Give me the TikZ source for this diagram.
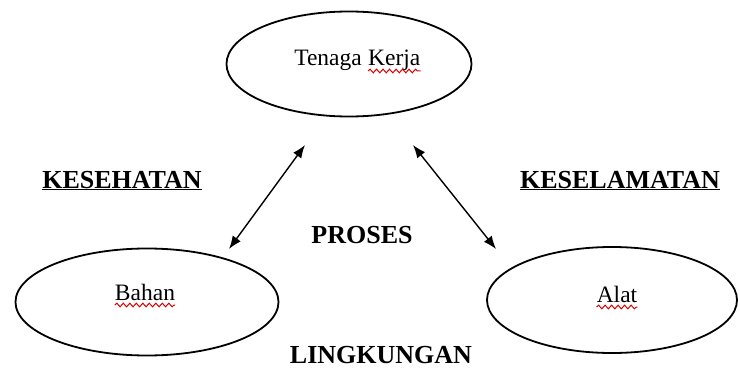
\documentclass[tikz,border=0pt]{standalone}
\usepackage{fontspec}
\setmainfont{Liberation Serif}
\usetikzlibrary{arrows.meta,shapes.geometric,decorations.pathmorphing,calc}

\tikzset{
  oval/.style={draw=black, line width=1.8pt, ellipse, inner sep=0pt},
  word/.style={inner sep=0pt, anchor=base, font=\fontsize{23.5}{28}\selectfont},
  heading/.style={inner sep=0pt, anchor=base, font=\fontsize{26}{30}\selectfont\bfseries},
  link/.style={line width=1.4pt, {Latex[length=13pt,width=10pt]}-{Latex[length=13pt,width=10pt]}},
  spell/.style={draw=red!85!black, line width=1pt,
    decorate, decoration={snake, amplitude=1.8pt, segment length=6.5pt}}
}

\begin{document}
\begin{tikzpicture}[x=1pt, y=-1pt]
  \useasboundingbox (0,0) rectangle (740,369);

  % the three elements
  \node[oval, minimum width=245pt, minimum height=105pt] (top)   at (349,64)  {};
  \node[oval, minimum width=263pt, minimum height=107pt] (left)  at (147,302) {};
  \node[oval, minimum width=250pt, minimum height=106pt] (right) at (612,300) {};

  % element names
  \node[word, anchor=base east] (tenaga) at (362,66) {Tenaga};
  \node[word, anchor=base west] (kerja)  at (368,66) {Kerja};
  \node[word] (bahan) at (145,300) {Bahan};
  \node[word] (alat)  at (617,302) {Alat};

  % spell-check marks under the names
  \draw[spell] ($(kerja.base west)+(0,5)$) -- ($(kerja.base east)+(0,5)$);
  \draw[spell] ($(bahan.base west)+(0,5)$) -- ($(bahan.base east)+(0,5)$);
  \draw[spell] ($(alat.base west)+(0,5)$) -- ($(alat.base east)+(0,5)$);

  % headings
  \node[heading] (kes)  at (122,188) {\underline{KESEHATAN}};
  \node[heading] (kesl) at (620,188) {\underline{KESELAMATAN}};
  \node[heading] (pros) at (362,243) {PROSES};
  \node[heading] (ling) at (381,363) {LINGKUNGAN};

  % connector end points
  \coordinate (lt) at (305,145);
  \coordinate (lb) at (229,249);
  \coordinate (rt) at (413,145);
  \coordinate (rb) at (496,249);

  \draw[link] (lt) -- (lb);
  \draw[link] (rt) -- (rb);
\end{tikzpicture}
\end{document}
